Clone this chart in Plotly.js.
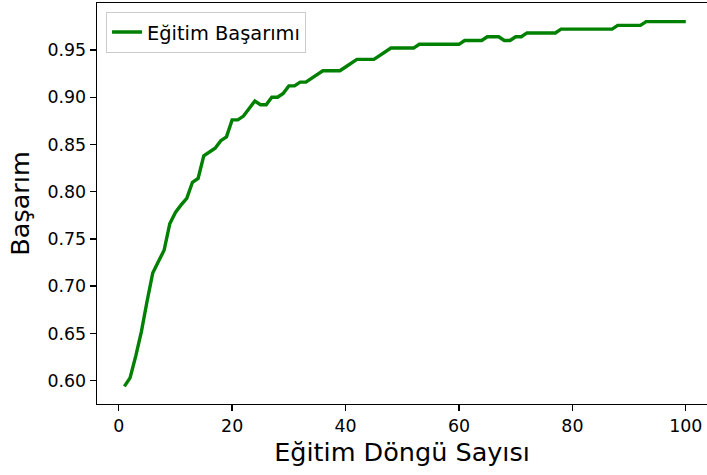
<!DOCTYPE html>
<html>
<head>
<meta charset="utf-8">
<script src="https://cdn.plot.ly/plotly-3.0.1.min.js"></script>
<style>html,body{margin:0;padding:0;background:#fff;}#chart{width:707px;height:475px;}</style>
</head>
<body>
<div id="chart"></div>
<script>
const epochs = [];
for (let i = 1; i <= 100; i++) epochs.push(i);

const trainAcc = [
  0.594, 0.603, 0.626, 0.652, 0.684, 0.714, 0.726, 0.738, 0.766, 0.778,
  0.786, 0.793, 0.810, 0.814, 0.838, 0.842, 0.846, 0.854, 0.858, 0.876,
  0.876, 0.880, 0.888, 0.896, 0.892, 0.892, 0.900, 0.900, 0.904, 0.912,
  0.912, 0.916, 0.916, 0.920, 0.924, 0.928, 0.928, 0.928, 0.928, 0.932,
  0.936, 0.940, 0.940, 0.940, 0.940, 0.944, 0.948, 0.952, 0.952, 0.952,
  0.952, 0.952, 0.956, 0.956, 0.956, 0.956, 0.956, 0.956, 0.956, 0.956,
  0.960, 0.960, 0.960, 0.960, 0.964, 0.964, 0.964, 0.960, 0.960, 0.964,
  0.964, 0.968, 0.968, 0.968, 0.968, 0.968, 0.968, 0.972, 0.972, 0.972,
  0.972, 0.972, 0.972, 0.972, 0.972, 0.972, 0.972, 0.976, 0.976, 0.976,
  0.976, 0.976, 0.980, 0.980, 0.980, 0.980, 0.980, 0.980, 0.980, 0.980
];

const seriesName = 'Eğitim Başarımı';
const xTitle = 'Eğitim Döngü Sayısı';
const yTitle = 'Başarım';
const xTicks = [0, 20, 40, 60, 80, 100];
const yTicks = [0.60, 0.65, 0.70, 0.75, 0.80, 0.85, 0.90, 0.95];

const font = 'DejaVu Sans, sans-serif';

const trace = {
  x: epochs, y: trainAcc, type: 'scatter', mode: 'lines', name: seriesName,
  line: {color: '#008000', width: 3.4}
};

const layout = {
  width: 707, height: 475,
  margin: {l: 97, r: 0, t: 3, b: 71, pad: 0},
  paper_bgcolor: '#ffffff', plot_bgcolor: '#ffffff',
  font: {family: font, size: 17.4, color: '#000'},
  showlegend: true,
  legend: {
    x: 0.0148, y: 0.978, xanchor: 'left', yanchor: 'top',
    bgcolor: 'rgba(255,255,255,0.8)', bordercolor: '#cccccc', borderwidth: 1,
    font: {family: font, size: 19.4, color: '#000'}
  },
  xaxis: {
    range: [-3.83, 103.74], tickmode: 'array', tickvals: xTicks,
    ticktext: xTicks.map(String),
    showgrid: false, zeroline: false,
    showline: true, linecolor: '#000', linewidth: 1.4, mirror: true,
    ticks: 'outside', ticklen: 6, tickwidth: 1.4, tickcolor: '#000',
    tickfont: {family: font, size: 17.4, color: '#000'},
    title: {text: xTitle, font: {family: font, size: 25.5, color: '#000'}, standoff: 8}
  },
  yaxis: {
    range: [0.5753, 0.9997], tickmode: 'array', tickvals: yTicks,
    ticktext: yTicks.map(v => v.toFixed(2)),
    showgrid: false, zeroline: false,
    showline: true, linecolor: '#000', linewidth: 1.4, mirror: false,
    ticks: 'outside', ticklen: 6, tickwidth: 1.4, tickcolor: '#000',
    tickfont: {family: font, size: 17.4, color: '#000'},
    title: {text: yTitle, font: {family: font, size: 25.5, color: '#000'}, standoff: 10}
  }
};

Plotly.newPlot('chart', [trace], layout, {displayModeBar: false, staticPlot: true});
</script>
</body>
</html>
